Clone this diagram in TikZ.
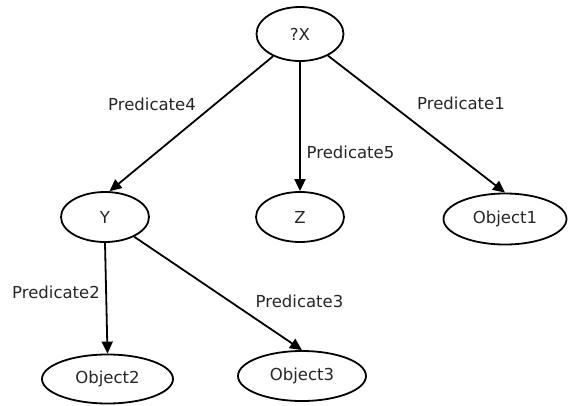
\documentclass[tikz,border=0pt]{standalone}
\usepackage{fontspec}
\setmainfont{DejaVu Sans}
\usetikzlibrary{shapes.geometric,arrows.meta}
\begin{document}
\begin{tikzpicture}[x=1pt,y=-1pt,
  every node/.style={font=\fontsize{16.5}{18}\selectfont, text=black!85},
  vertex/.style={ellipse, draw=black, line width=1.8pt, inner sep=0pt},
  link/.style={draw=black, line width=1.8pt, -{Triangle[length=12pt,width=11pt]}},
  tag/.style={inner sep=0pt}]
\useasboundingbox[fill=white] (0,0) rectangle (568,405);
% nodes
\node[vertex, minimum width=87, minimum height=54] (X) at (300,34) {?X};
\node[vertex, minimum width=88, minimum height=50] (Y) at (105,217) {Y};
\node[vertex, minimum width=88, minimum height=50] (Z) at (300,217) {Z};
\node[vertex, minimum width=123, minimum height=51] (O1) at (505,219) {Object1};
\node[vertex, minimum width=131, minimum height=49] (O2) at (107.5,379) {Object2};
\node[vertex, minimum width=128, minimum height=50] (O3) at (302,376) {Object3};
% connectors
\draw[link] (X) -- (Y.80);
\draw[link] (X) -- (Z.north);
\draw[link] (X) -- (O1.north);
\draw[link] (Y.south) -- (O2.north);
\draw[link] (Y) -- (O3.north);
% labels
\node[tag] (p4) at (152,104) {Predicate4};
\node[tag] (p5) at (350.5,152) {Predicate5};
\node[tag] (p1) at (461,103) {Predicate1};
\node[tag] (p2) at (56,292) {Predicate2};
\node[tag] (p3) at (299.5,301) {Predicate3};
\end{tikzpicture}
\end{document}
